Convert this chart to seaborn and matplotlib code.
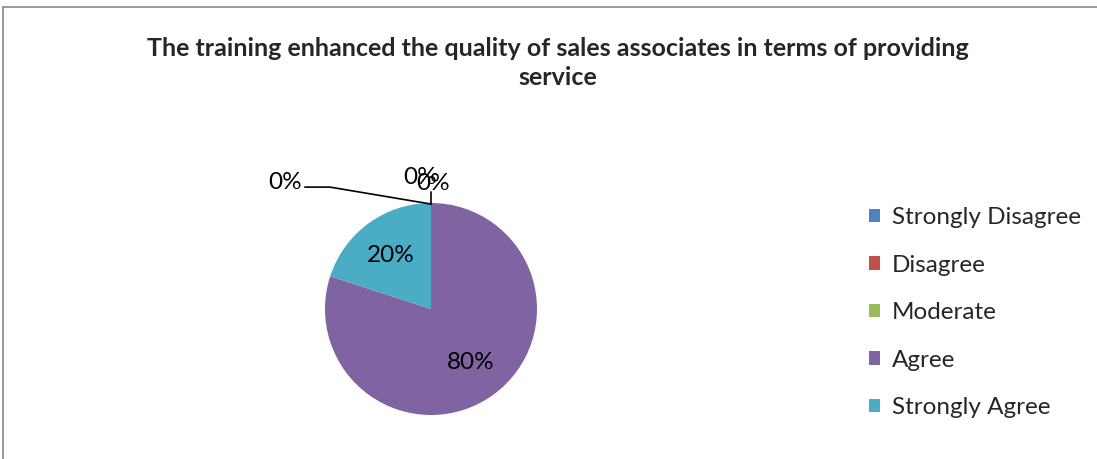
import numpy as np
import matplotlib
matplotlib.use("Agg")
import matplotlib.pyplot as plt
import seaborn as sns
from matplotlib.patches import Patch
from matplotlib.lines import Line2D

categories = ["Strongly Disagree", "Disagree", "Moderate", "Agree", "Strongly Agree"]
shares = [0, 0, 0, 80, 20]
colors = ["#4F81BD", "#C0504D", "#9BBB59", "#8064A2", "#4BACC6"]
title = "The training enhanced the quality of sales associates in terms of providing\nservice"

sns.set_theme(style="white")
plt.rcParams["font.family"] = ["Lato", "DejaVu Sans"]

W, H = 1097, 459
fig = plt.figure(figsize=(W / 100, H / 100), dpi=100)

# pie centre (431, 309) px, radius 106 px -> axes of 4x4 data units
cx, cy, r = 431, 309, 106
ax = fig.add_axes([(cx - 2 * r) / W, (H - cy - 2 * r) / H, 4 * r / W, 4 * r / H])
wedges, _ = ax.pie(shares, colors=colors, startangle=90, counterclock=False,
                   wedgeprops=dict(linewidth=0))
ax.set_xlim(-2, 2)
ax.set_ylim(-2, 2)
ax.set_aspect("equal")
ax.axis("off")

fs = 17.5

# percentage labels inside the non-zero slices
for w, v in zip(wedges, shares):
    if v > 0:
        ang = np.deg2rad((w.theta1 + w.theta2) / 2)
        ax.text(0.64 * np.cos(ang), 0.62 * np.sin(ang), f"{v}%",
                ha="center", va="center", fontsize=fs, color="black")

# zero-slice labels stacked at the top with leader lines
zero_pos = [(-1.377, 1.198), (-0.104, 1.236), (0.019, 1.18)]
zi = 0
for v in shares:
    if v == 0:
        x, y = zero_pos[zi]
        ax.text(x, y, f"{v}%", ha="center", va="center", fontsize=fs, color="black")
        zi += 1
ax.plot([-1.19, -0.953, 0.0], [1.15, 1.15, 0.99], color="black", lw=1.2)
ax.plot([0.0, 0.0], [1.10, 0.99], color="black", lw=1.2)

fig.text(558 / W, 1 - 63 / H, title, ha="center", va="center", fontsize=18,
         fontweight="bold", linespacing=1.3)

handles = [Patch(facecolor=c, edgecolor="none") for c in colors]
fig.legend(handles, categories, loc="upper left", bbox_to_anchor=(857 / W, 1 - 195 / H),
           frameon=False, fontsize=fs, handlelength=0.45, handleheight=0.45,
           handletextpad=0.5, labelspacing=1.09, borderpad=0)

# chart-area border (cut off on the right and bottom)
fig.add_artist(Line2D([2.5 / W, 1], [1 - 7 / H, 1 - 7 / H], color="#868686", lw=1.2))
fig.add_artist(Line2D([2.5 / W, 2.5 / W], [0, 1 - 7 / H], color="#868686", lw=1.2))

fig.savefig("out.png", dpi=100)
